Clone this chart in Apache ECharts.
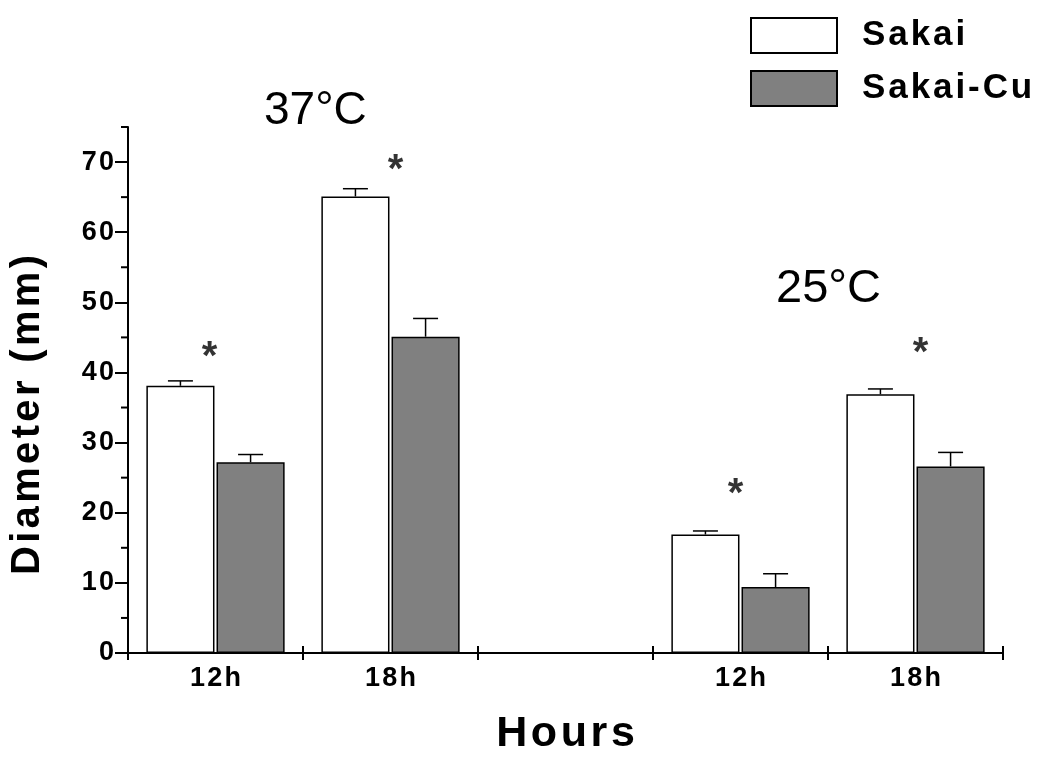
<!DOCTYPE html>
<html>
<head>
<meta charset="utf-8">
<script src="https://cdn.jsdelivr.net/npm/echarts@6/dist/echarts.min.js"></script>
<style>
  html, body { margin: 0; padding: 0; background: #fff; }
  #chart { width: 1050px; height: 764px; }
</style>
</head>
<body>
<div id="chart"></div>
<script>
  // categories (empty slot separates the 37°C and 25°C groups)
  const categories = ['12h', '18h', '', '12h', '18h'];
  const sakai = [38.1, 65.1, '-', 16.9, 36.9];
  const sakaiErr = [0.7, 1.1, null, 0.5, 0.75];
  const sakaiCu = [27.2, 45.1, '-', 9.4, 26.6];
  const sakaiCuErr = [1.1, 2.6, null, 1.9, 2.0];
  // significance marks (*) heights
  const starY = [42.0, 68.8, null, 22.6, 42.7];
  const yMajorTicks = [0, 10, 20, 30, 40, 50, 60, 70];
  const yMinorTicks = [5, 15, 25, 35, 45, 55, 65, 75];

  const FONT = '"Liberation Sans", Arial, sans-serif';
  const HAIR = '\u200a';
  const spaced = (s, sp) => s.split('').join(sp);

  const CAT_GAP = 0.21, BAR_GAP = 0.03;
  const starShift = [-6, 5, 0, -5, 5];

  function errData(vals, errs) {
    const out = [];
    vals.forEach((v, i) => {
      if (errs[i] != null) out.push([i, v, errs[i]]);
    });
    return out;
  }

  function errRender(side) {
    return function (params, api) {
      const idx = api.value(0), v = api.value(1), e = api.value(2);
      const band = api.size([1, 0])[0];
      const w = band * (1 - CAT_GAP) / (2 + BAR_GAP);
      const off = side * w * (1 + BAR_GAP) / 2;
      const p0 = api.coord([idx, v]);
      const p1 = api.coord([idx, v + e]);
      const cx = p0[0] + off;
      const style = { stroke: '#000', lineWidth: 1.5 };
      return {
        type: 'group',
        children: [
          { type: 'line', shape: { x1: cx, y1: p0[1], x2: cx, y2: p1[1] }, style },
          { type: 'line', shape: { x1: cx - 12.5, y1: p1[1], x2: cx + 12.5, y2: p1[1] }, style }
        ]
      };
    };
  }

  // short y ticks at the half steps, placed with the y scale
  function minorTickRender(params, api) {
    const p = api.coord([0, api.value(1)]);
    const left = params.coordSys.x;
    return {
      type: 'line',
      shape: { x1: left - 7, y1: p[1], x2: left, y2: p[1] },
      style: { stroke: '#000', lineWidth: 2 }
    };
  }

  // upper half of the crossing ticks on the category boundaries
  function innerXTickRender(params, api) {
    const band = api.size([1, 0])[0];
    const p = api.coord([0, 0]);
    const x0 = p[0] - band / 2;
    const children = [];
    for (let k = 0; k <= categories.length; k++) {
      const x = x0 + k * band;
      children.push({
        type: 'line',
        shape: { x1: x, y1: p[1], x2: x, y2: p[1] - 7 },
        style: { stroke: '#000', lineWidth: 2 }
      });
    }
    return { type: 'group', children };
  }

  const axisStyle = { color: '#000', width: 2 };

  let chart = echarts.init(document.getElementById('chart'));
  chart.setOption({
    backgroundColor: '#fff',
    animation: false,
    grid: { left: 126, right: 47, top: 127, bottom: 111 },
    legend: {
      orient: 'vertical',
      left: 750,
      top: 17,
      padding: 0,
      itemWidth: 86,
      itemHeight: 35,
      itemGap: 16,
      icon: 'rect',
      data: ['Sakai', 'Sakai-Cu'],
      formatter: name => spaced(name, HAIR),
      textStyle: {
        fontFamily: FONT,
        fontSize: 35,
        fontWeight: 'bold',
        color: '#000',
        padding: [0, 0, 0, 20]
      }
    },
    graphic: [
      { type: 'text', left: 264, top: 88, style: { text: '37°C', font: '46px ' + FONT, fill: '#000' } },
      { type: 'text', left: 776, top: 266, style: { text: '25°C', font: '47px ' + FONT, fill: '#000' } }
    ],
    xAxis: {
      type: 'category',
      data: categories,
      axisLine: { show: true, lineStyle: axisStyle },
      axisTick: { show: true, interval: 0, length: 7, lineStyle: axisStyle },
      axisLabel: {
        interval: 0,
        margin: 12,
        fontFamily: FONT,
        fontSize: 27,
        fontWeight: 'bold',
        color: '#000',
        formatter: v => spaced(v, HAIR)
      },
      name: spaced('Hours', HAIR),
      nameLocation: 'middle',
      nameGap: 60,
      nameTextStyle: { fontFamily: FONT, fontSize: 43, fontWeight: 'bold', color: '#000' }
    },
    yAxis: {
      type: 'value',
      min: 0,
      max: 75,
      axisLine: { show: true, lineStyle: axisStyle },
      axisTick: { show: true, length: 13, lineStyle: axisStyle, customValues: yMajorTicks },
      axisLabel: {
        customValues: yMajorTicks,
        margin: 14,
        fontFamily: FONT,
        fontSize: 27,
        fontWeight: 'bold',
        color: '#000',
        formatter: v => spaced(String(v), HAIR)
      },
      splitLine: { show: false },
      name: spaced('Diameter (mm)', HAIR),
      nameLocation: 'middle',
      nameGap: 80,
      nameTextStyle: {
        fontFamily: FONT,
        fontSize: 40,
        fontWeight: 'bold',
        color: '#000',
        padding: [0, 50, 0, 0]
      }
    },
    series: [
      {
        name: 'Sakai',
        type: 'bar',
        data: sakai,
        barCategoryGap: (CAT_GAP * 100) + '%',
        barGap: (BAR_GAP * 100) + '%',
        itemStyle: { color: '#fff', borderColor: '#000', borderWidth: 1.5 }
      },
      {
        name: 'Sakai-Cu',
        type: 'bar',
        data: sakaiCu,
        itemStyle: { color: '#808080', borderColor: '#000', borderWidth: 1.5 }
      },
      {
        type: 'custom',
        silent: true,
        z: 3,
        renderItem: errRender(-1),
        data: errData(sakai, sakaiErr)
      },
      {
        type: 'custom',
        silent: true,
        z: 3,
        renderItem: errRender(1),
        data: errData(sakaiCu, sakaiCuErr)
      },
      {
        type: 'custom',
        silent: true,
        clip: false,
        z: 4,
        renderItem: minorTickRender,
        data: yMinorTicks.map(v => [0, v])
      },
      {
        type: 'custom',
        silent: true,
        clip: false,
        z: 4,
        renderItem: innerXTickRender,
        data: [[0, 0]]
      },
      {
        type: 'scatter',
        silent: true,
        symbolSize: 1,
        itemStyle: { color: 'rgba(0,0,0,0)' },
        label: {
          show: true,
          position: 'inside',
          formatter: '*',
          fontFamily: FONT,
          fontSize: 40,
          fontWeight: 'bold',
          color: '#000'
        },
        data: starY
          .map((v, i) => v == null ? null : { value: [i, v], label: { offset: [starShift[i], 0] } })
          .filter(d => d)
      }
    ]
  });
</script>
</body>
</html>
